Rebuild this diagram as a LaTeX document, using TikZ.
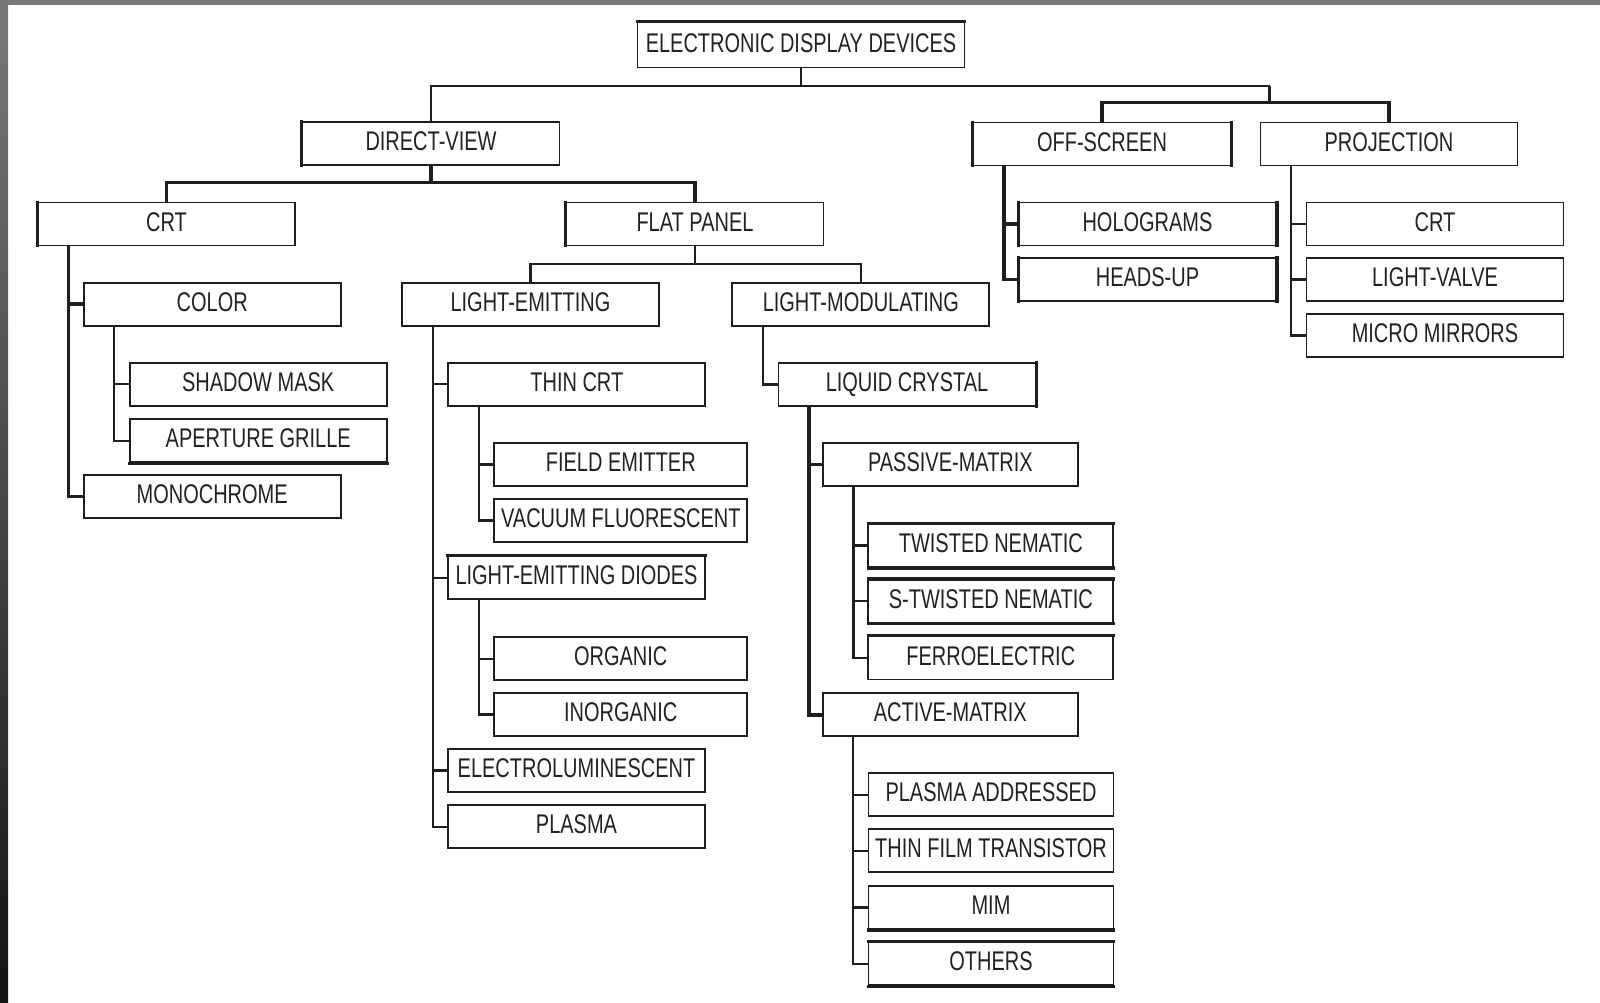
\documentclass[tikz,border=0pt]{standalone}
\usepackage{fontspec}
\setmainfont{Liberation Sans}[FakeStretch=0.74]
\definecolor{linec}{HTML}{1E1E1E}
\definecolor{txtc}{HTML}{222222}
\definecolor{framegray}{HTML}{787878}
\definecolor{framedark}{HTML}{141414}
\tikzset{
  box/.style={draw=linec, line width=1.8pt, fill=white, minimum height=43pt,
    minimum width=257pt, inner sep=0pt, text height=19.3pt, text depth=5pt,
    font=\fontsize{27}{30}\selectfont, text=txtc, anchor=center},
  wfe/.style={minimum width=253pt},
  wpm/.style={minimum width=255pt},
  wtn/.style={minimum width=245pt},
  conn/.style={draw=linec, line width=2.2pt},
  thickconn/.style={draw=linec, line width=3.6pt},
  heavyedge/.style={draw=linec, line width=3.2pt, line cap=butt,
    shorten <=-0.9pt, shorten >=-0.9pt},
}
\newcommand\mybranch[3]{\foreach \c in {#3}{\draw[#1] ([xshift=31.5pt]#2.south west) |- (\c.west);}}
\begin{document}
\begin{tikzpicture}[x=1pt,y=-1pt]
\useasboundingbox (0,0) rectangle (1600,1002);
\fill[white] (0,0) rectangle (1600,1002);
% frame
\fill[framegray] (0,0) rectangle (1600,5);
\shade[top color=framegray, bottom color=framedark] (0,0) rectangle (8,1002);

% nodes
\node[box, minimum width=327pt, minimum height=45pt] (edd) at (801,45) {ELECTRONIC DISPLAY DEVICES};
\node[box] (dv) at (431,143.7) {DIRECT-VIEW};
\node[box] (os) at (1102,144) {OFF-SCREEN};
\node[box] (proj) at (1389,144) {PROJECTION};

\node[box] (crt) at (166.5,224) {CRT};
\node[box] (fp) at (695,224) {FLAT PANEL};
\node[box] (holo) at (1147.5,224) {HOLOGRAMS};
\node[box] (heads) at (1147.5,279.5) {HEADS-UP};
\node[box] (pcrt) at (1435,224) {CRT};
\node[box] (lv) at (1435,279.5) {LIGHT-VALVE};
\node[box] (mm) at (1435,335.5) {MICRO MIRRORS};

\node[box] (color) at (212.2,304.2) {COLOR};
\node[box] (sm) at (258.2,384.2) {SHADOW MASK};
\node[box] (ag) at (258.2,440.8) {APERTURE GRILLE};
\node[box] (mono) at (212.2,496.3) {MONOCHROME};

\node[box] (le) at (530.5,304.5) {LIGHT-EMITTING};
\node[box] (lm) at (860.8,304.5) {LIGHT-MODULATING};

\node[box] (tcrt) at (576.8,384.3) {THIN CRT};
\node[box, wfe] (fe) at (620.8,464.5) {FIELD EMITTER};
\node[box, wfe] (vf) at (620.8,520.5) {VACUUM FLUORESCENT};
\node[box] (led) at (576.5,577.8) {LIGHT-EMITTING DIODES};
\node[box, wfe] (org) at (620.7,658.7) {ORGANIC};
\node[box, wfe] (inorg) at (620.7,714.5) {INORGANIC};
\node[box] (el) at (576.5,770.5) {ELECTROLUMINESCENT};
\node[box] (plasma) at (576.5,826.7) {PLASMA};

\node[box] (lc) at (907,384.5) {LIQUID CRYSTAL};
\node[box, wpm] (pm) at (950.4,464.3) {PASSIVE-MATRIX};
\node[box, wtn] (tn) at (990.8,545.5) {TWISTED NEMATIC};
\node[box, wtn] (stn) at (990.8,601.3) {S-TWISTED NEMATIC};
\node[box, wtn] (ferro) at (990.8,658) {FERROELECTRIC};
\node[box, wpm] (am) at (950.2,714.7) {ACTIVE-MATRIX};
\node[box, wtn] (pa) at (991,794.7) {PLASMA ADDRESSED};
\node[box, wtn] (tft) at (991,850.7) {THIN FILM TRANSISTOR};
\node[box, wtn] (mim) at (991,907.5) {MIM};
\node[box, wtn] (others) at (991,963.8) {OTHERS};

% heavier box edges, as printed
\draw[heavyedge] (edd.north west) -- (edd.north east);
\draw[heavyedge] (dv.north west) -- (dv.south west);
\draw[heavyedge] (crt.north west) -- (crt.south west);
\draw[heavyedge] (os.north west) -- (os.south west);
\draw[heavyedge] (os.north east) -- (os.south east);
\draw[heavyedge] (fp.north west) -- (fp.south west);
\draw[heavyedge] (holo.north west) -- (holo.south west);
\draw[heavyedge] (holo.north east) -- (holo.south east);
\draw[heavyedge] (heads.north west) -- (heads.south west);
\draw[heavyedge] (heads.north east) -- (heads.south east);
\draw[heavyedge] (lc.north east) -- (lc.south east);
\draw[heavyedge] (ag.south west) -- (ag.south east);
\draw[heavyedge] (led.north west) -- (led.north east);
\draw[heavyedge] (tn.north west) -- (tn.north east);
\draw[heavyedge] (tn.south west) -- (tn.south east);
\draw[heavyedge] (stn.north west) -- (stn.north east);
\draw[heavyedge] (stn.south west) -- (stn.south east);
\draw[heavyedge] (ferro.north west) -- (ferro.north east);
\draw[heavyedge] (mim.south west) -- (mim.south east);
\draw[heavyedge] (others.north west) -- (others.north east);
\draw[heavyedge] (others.south west) -- (others.south east);

% fan-out connectors
\coordinate (jr1) at (1269.5,86);
\coordinate (jr2) at (1269.5,102.5);
\draw[conn] (edd.south) -- (edd.south |- jr1);
\draw[conn] (dv.north) |- (jr1);
\draw[thickconn] (jr1) -- (jr2);
\draw[thickconn] (os.north) |- (jr2) -| (proj.north);

\coordinate (jd) at (431,182.5);
\draw[thickconn] (dv.south) -- (jd);
\draw[thickconn] (crt.north) |- (jd) -| (fp.north);

\coordinate (jf) at (695,264);
\draw[conn] (fp.south) -- (jf);
\draw[conn] (le.north) |- (jf) -| (lm.north);

% list connectors
\mybranch{thickconn}{crt}{color,mono}
\mybranch{conn}{color}{sm,ag}
\mybranch{conn}{le}{tcrt,led,el,plasma}
\mybranch{conn}{tcrt}{fe,vf}
\mybranch{conn}{led}{org,inorg}
\mybranch{conn}{lm}{lc}
\mybranch{thickconn}{lc}{pm,am}
\mybranch{conn}{pm}{tn,stn,ferro}
\mybranch{conn}{am}{pa,tft,mim,others}
\mybranch{thickconn}{os}{holo,heads}
\mybranch{conn}{proj}{pcrt,lv,mm}
\end{tikzpicture}
\end{document}
